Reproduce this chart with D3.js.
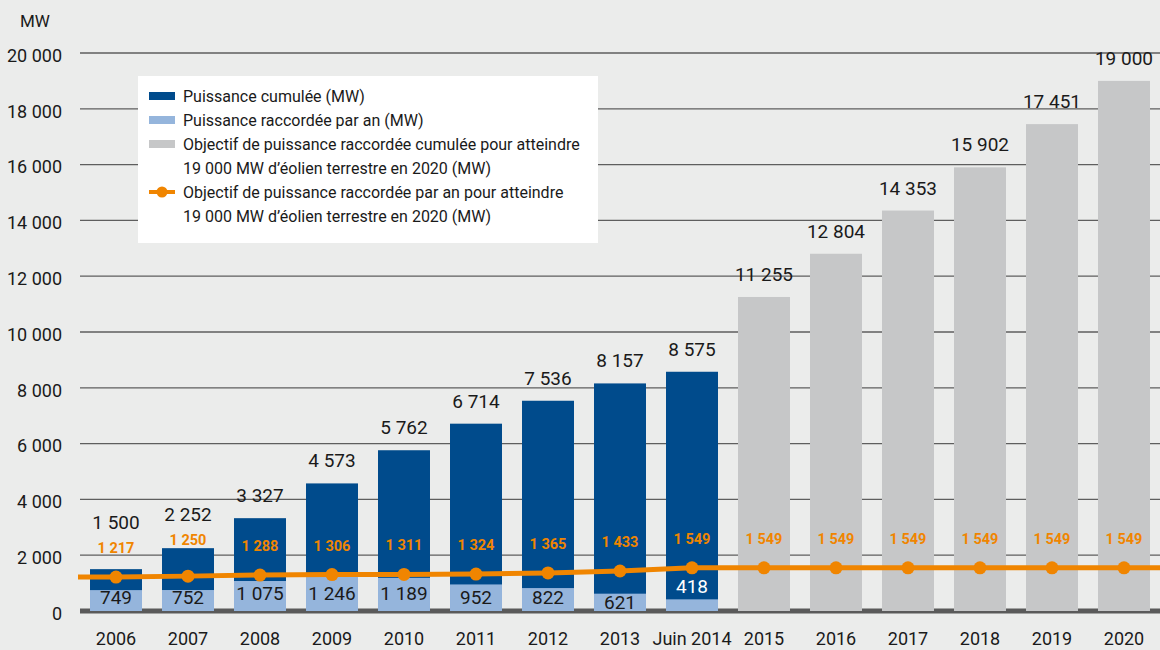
<!DOCTYPE html>
<html lang="fr">
<head>
<meta charset="utf-8">
<title>Puissance éolienne raccordée</title>
<script src="https://cdn.jsdelivr.net/npm/d3@7"></script>
<style>
  html, body { margin: 0; padding: 0; background: #ebeceb; }
  svg text { font-family: Roboto, "Noto Sans", sans-serif; font-weight: 400; }
  svg text.objectif { font-weight: 700; }
</style>
</head>
<body>
<div id="chart"></div>
<script>
// données
var categories = ["2006", "2007", "2008", "2009", "2010", "2011", "2012", "2013", "Juin 2014",
                  "2015", "2016", "2017", "2018", "2019", "2020"];
var cumul = [1500, 2252, 3327, 4573, 5762, 6714, 7536, 8157, 8575];
var annuel = [749, 752, 1075, 1246, 1189, 952, 822, 621, 418];
var objectifCumul = [null, null, null, null, null, null, null, null, null,
                     11255, 12804, 14353, 15902, 17451, 19000];
var objectifAnnuel = [1217, 1250, 1288, 1306, 1311, 1324, 1365, 1433, 1549,
                      1549, 1549, 1549, 1549, 1549, 1549];
var yTicks = [0, 2000, 4000, 6000, 8000, 10000, 12000, 14000, 16000, 18000, 20000];
var legendItems = [
    {type: "rect", color: "#004b8c", lines: ["Puissance cumulée (MW)"]},
    {type: "rect", color: "#95b5dc", lines: ["Puissance raccordée par an (MW)"]},
    {type: "rect", color: "#c6c7c8", lines: ["Objectif de puissance raccordée cumulée pour atteindre",
                                             "19 000 MW d\u2019éolien terrestre en 2020 (MW)"]},
    {type: "line", color: "#f08500", lines: ["Objectif de puissance raccordée par an pour atteindre",
                                             "19 000 MW d\u2019éolien terrestre en 2020 (MW)"]}
];

var w = 1160, h = 650;
var plotLeft = 80, plotRight = 1160, plotTop = 53, plotBottom = 611;

var fr = d3.formatLocale({decimal: ",", thousands: "\u00a0", grouping: [3], currency: ["", " €"]});
var fmt = fr.format(",d");

var svg = d3.select("#chart").append("svg")
    .attr("width", w).attr("height", h);

svg.append("rect").attr("width", w).attr("height", h).attr("fill", "#ebeceb");

var x = d3.scaleBand()
    .domain(categories)
    .range([plotLeft, plotRight])
    .paddingInner(0.278)
    .paddingOuter(0.139);

var y = d3.scaleLinear()
    .domain([0, 20000])
    .range([plotBottom, plotTop]);

// grille
svg.append("g").selectAll("line")
    .data(yTicks.filter(function(d) { return d > 0; }))
    .enter().append("line")
    .attr("x1", plotLeft).attr("x2", plotRight)
    .attr("y1", function(d) { return y(d); })
    .attr("y2", function(d) { return y(d); })
    .attr("stroke", "#5e5e5e")
    .attr("stroke-width", 1.3);

// axe y (texte seulement)
var yAxis = d3.axisLeft(y).tickValues(yTicks).tickFormat(fmt).tickSize(0).tickPadding(0);
var gy = svg.append("g").attr("transform", "translate(62,2.5)").call(yAxis);
gy.select(".domain").remove();
gy.selectAll("text").attr("font-size", 18).attr("fill", "#1a1a1a");

svg.append("text").attr("x", 20).attr("y", 27)
    .attr("font-size", 17).attr("fill", "#1a1a1a").text("MW");

// ligne de base
svg.append("line")
    .attr("x1", plotLeft).attr("x2", plotRight)
    .attr("y1", y(0)).attr("y2", y(0))
    .attr("stroke", "#5a5a5a").attr("stroke-width", 5);

var bw = x.bandwidth();

// barres d'objectif cumulé
svg.append("g").selectAll("rect")
    .data(categories.map(function(c, i) { return {c: c, v: objectifCumul[i]}; })
          .filter(function(d) { return d.v != null; }))
    .enter().append("rect")
    .attr("x", function(d) { return x(d.c); })
    .attr("y", function(d) { return y(d.v); })
    .attr("width", bw)
    .attr("height", function(d) { return y(0) - y(d.v); })
    .attr("fill", "#c6c7c8");

// barres puissance cumulée
svg.append("g").selectAll("rect")
    .data(cumul)
    .enter().append("rect")
    .attr("x", function(d, i) { return x(categories[i]); })
    .attr("y", function(d) { return y(d); })
    .attr("width", bw)
    .attr("height", function(d) { return y(0) - y(d); })
    .attr("fill", "#004b8c");

// barres puissance annuelle
svg.append("g").selectAll("rect")
    .data(annuel)
    .enter().append("rect")
    .attr("x", function(d, i) { return x(categories[i]); })
    .attr("y", function(d) { return y(d); })
    .attr("width", bw)
    .attr("height", function(d) { return y(0) - y(d); })
    .attr("fill", "#95b5dc");

// étiquettes annuelles
svg.append("g").selectAll("text")
    .data(annuel)
    .enter().append("text")
    .attr("x", function(d, i) { return x(categories[i]) + bw / 2; })
    .attr("y", function(d) {
        if (d < 500) return y(d) - 6;
        if (d < 700) return y(0) - 2;
        return d >= 1000 ? y(0) - 11 : y(0) - 7;
    })
    .attr("text-anchor", "middle")
    .attr("font-size", 19)
    .attr("fill", function(d) { return d < 500 ? "#ffffff" : "#1a1a1a"; })
    .text(fmt);

// position des étiquettes orange : au-dessus du haut de barre si elles le chevauchent
function orangeY(i) {
    var base = y(objectifAnnuel[i]) - 24;
    if (i < cumul.length) {
        var barTop = y(cumul[i]);
        if (barTop > base - 16 && barTop < base + 5) base = barTop - 3;
    }
    return base;
}

// étiquettes cumulées (réel + objectif)
var totals = categories.map(function(c, i) {
    return {c: c, i: i, v: i < cumul.length ? cumul[i] : objectifCumul[i]};
});
svg.append("g").selectAll("text")
    .data(totals)
    .enter().append("text")
    .attr("x", function(d) { return x(d.c) + bw / 2; })
    .attr("y", function(d) { return Math.min(y(d.v) - 16, orangeY(d.i) - 24); })
    .attr("text-anchor", "middle")
    .attr("font-size", 19)
    .attr("fill", "#1a1a1a")
    .text(function(d) { return fmt(d.v); });

// ligne objectif annuel
var pts = categories.map(function(c, i) { return [x(c) + bw / 2, y(objectifAnnuel[i])]; });
var linePts = [[plotLeft - 2, pts[0][1]]].concat(pts).concat([[plotRight, pts[pts.length - 1][1]]]);
svg.append("path")
    .attr("d", d3.line()(linePts))
    .attr("fill", "none")
    .attr("stroke", "#f08500")
    .attr("stroke-width", 5);

svg.append("g").selectAll("circle")
    .data(objectifAnnuel)
    .enter().append("circle")
    .attr("cx", function(d, i) { return x(categories[i]) + bw / 2; })
    .attr("cy", function(d) { return y(d); })
    .attr("r", 6.5)
    .attr("fill", "#f08500");

svg.append("g").selectAll("text")
    .data(objectifAnnuel)
    .enter().append("text")
    .attr("class", "objectif")
    .attr("x", function(d, i) { return x(categories[i]) + bw / 2; })
    .attr("y", function(d, i) { return orangeY(i); })
    .attr("text-anchor", "middle")
    .attr("font-size", 14.5)
    .attr("fill", "#f08500")
    .text(fmt);

// axe x
var xAxis = d3.axisBottom(x).tickSize(0).tickPadding(0);
var gx = svg.append("g").attr("transform", "translate(0,645)").call(xAxis);
gx.select(".domain").remove();
gx.selectAll("text").attr("font-size", 18).attr("fill", "#1a1a1a").attr("dy", 0);

// légende
var lg = svg.append("g").attr("transform", "translate(138,76)");
lg.append("rect").attr("width", 460).attr("height", 167).attr("fill", "#ffffff");
var ly = 20;
legendItems.forEach(function(item) {
    if (item.type === "rect") {
        lg.append("rect").attr("x", 11).attr("y", ly - 4).attr("width", 26).attr("height", 8)
            .attr("fill", item.color);
    } else {
        lg.append("line").attr("x1", 11).attr("x2", 37).attr("y1", ly).attr("y2", ly)
            .attr("stroke", item.color).attr("stroke-width", 4);
        lg.append("circle").attr("cx", 24).attr("cy", ly).attr("r", 5.5).attr("fill", item.color);
    }
    item.lines.forEach(function(t, k) {
        lg.append("text").attr("x", 45).attr("y", ly + 6 + k * 24)
            .attr("font-size", 16).attr("fill", "#1a1a1a").text(t);
    });
    ly += 24 * item.lines.length;
});
</script>
</body>
</html>
